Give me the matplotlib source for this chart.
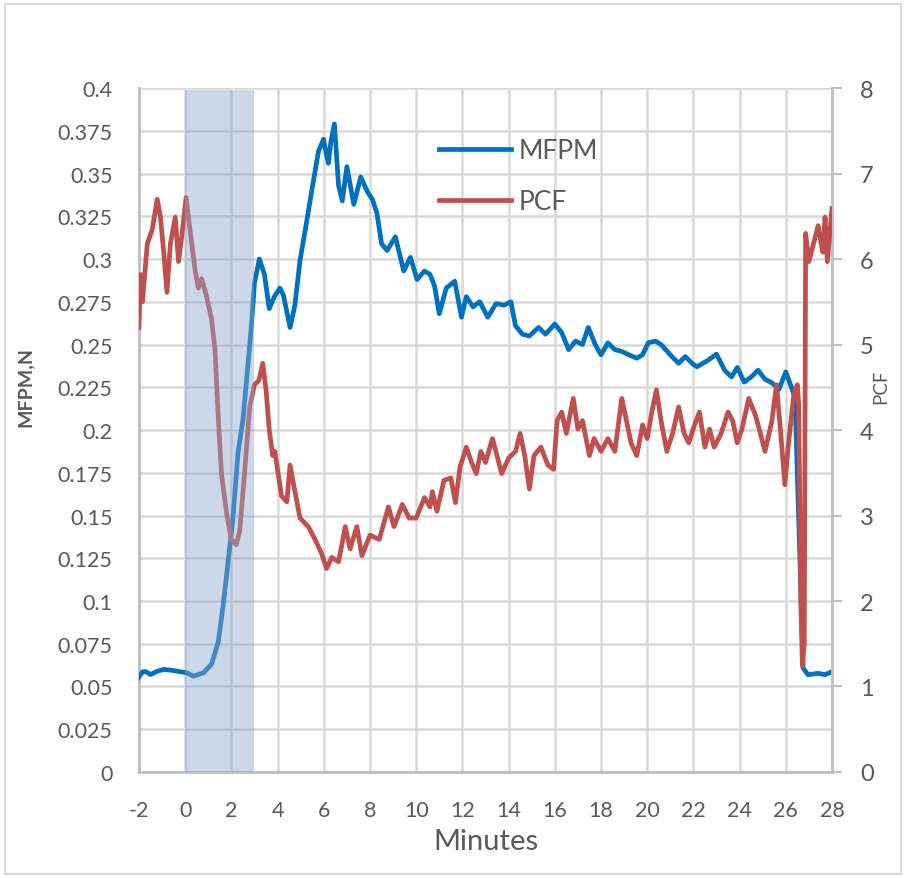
import matplotlib
matplotlib.use("Agg")
import matplotlib.pyplot as plt
from matplotlib.patches import Rectangle

plt.rcParams['font.family'] = ['Lato', 'DejaVu Sans']

# ---------------- data ----------------
mfpm_t = [-2.0, -1.85, -1.71, -1.5, -1.2, -0.93, -0.6, -0.36, 0.07, 0.36, 0.79, 1.14,
          1.43, 1.64, 1.86, 2.07, 2.29, 2.5, 2.71, 2.86, 3.0, 3.21, 3.43, 3.64, 3.86,
          4.1, 4.25, 4.54, 4.75, 4.97, 5.26, 5.48, 5.77, 5.99, 6.1, 6.2, 6.3, 6.46,
          6.64, 6.8, 7.0, 7.3, 7.6, 7.9, 8.1, 8.3, 8.5, 8.74, 9.1, 9.46, 9.75, 10.04,
          10.36, 10.6, 10.8, 11.0, 11.3, 11.67, 11.96, 12.17, 12.46, 12.75, 13.1,
          13.46, 13.8, 14.1, 14.3, 14.6, 14.9, 15.3, 15.6, 16.0, 16.3, 16.6, 16.9,
          17.2, 17.45, 17.75, 18.0, 18.3, 18.6, 18.9, 19.2, 19.55, 19.8, 20.05, 20.35,
          20.6, 21.0, 21.36, 21.65, 21.94, 22.15, 22.6, 23.0, 23.35, 23.65, 23.9,
          24.2, 24.5, 24.8, 25.1, 25.4, 25.7, 26.0, 26.2, 26.4, 26.6, 26.75, 26.96,
          27.4, 27.7, 28.0]
mfpm_v = [0.0556, 0.0585, 0.0587, 0.057, 0.059, 0.060, 0.0595, 0.059, 0.058, 0.056,
          0.058, 0.063, 0.076, 0.097, 0.123, 0.149, 0.187, 0.206, 0.237, 0.26, 0.286,
          0.30, 0.291, 0.271, 0.278, 0.283, 0.279, 0.26, 0.273, 0.299, 0.322, 0.34,
          0.363, 0.37, 0.362, 0.356, 0.368, 0.379, 0.343, 0.334, 0.354, 0.332, 0.348,
          0.339, 0.335, 0.327, 0.309, 0.305, 0.313, 0.293, 0.301, 0.288, 0.293, 0.291,
          0.284, 0.268, 0.283, 0.287, 0.266, 0.278, 0.272, 0.275, 0.266, 0.274, 0.273,
          0.275, 0.261, 0.256, 0.255, 0.26, 0.256, 0.262, 0.257, 0.247, 0.252, 0.25,
          0.26, 0.25, 0.244, 0.251, 0.247, 0.246, 0.244, 0.242, 0.244, 0.251, 0.252,
          0.25, 0.244, 0.239, 0.243, 0.239, 0.237, 0.2405, 0.2444, 0.235, 0.231,
          0.2366, 0.228, 0.231, 0.235, 0.2297, 0.2276, 0.2237, 0.234, 0.2266, 0.219,
          0.13, 0.0608, 0.0569, 0.0577, 0.0569, 0.0587]

pcf_t = [-2.0, -1.93, -1.85, -1.64, -1.43, -1.21, -1.07, -0.93, -0.79, -0.64, -0.43,
         -0.29, -0.14, 0.04, 0.21, 0.43, 0.57, 0.71, 0.93, 1.14, 1.29, 1.43, 1.57,
         1.79, 2.0, 2.21, 2.36, 2.57, 2.79, 3.0, 3.19, 3.36, 3.5, 3.64, 3.79, 3.88,
         4.17, 4.4, 4.54, 4.75, 4.97, 5.33, 5.62, 5.9, 6.12, 6.35, 6.64, 6.93, 7.14,
         7.43, 7.65, 8.0, 8.4, 8.8, 9.04, 9.4, 9.7, 10.0, 10.36, 10.6, 10.7, 10.9,
         11.2, 11.5, 11.7, 11.9, 12.17, 12.4, 12.6, 12.8, 13.0, 13.3, 13.5, 13.7,
         14.0, 14.3, 14.5, 14.7, 14.9, 15.1, 15.4, 15.7, 15.95, 16.1, 16.3, 16.5,
         16.8, 17.0, 17.2, 17.5, 17.7, 18.0, 18.3, 18.6, 18.9, 19.1, 19.3, 19.55,
         19.8, 20.0, 20.2, 20.4, 20.6, 20.85, 21.1, 21.36, 21.6, 21.8, 22.05, 22.26,
         22.5, 22.7, 22.9, 23.2, 23.5, 23.7, 23.9, 24.1, 24.4, 24.7, 24.9, 25.1,
         25.4, 25.6, 25.8, 25.96, 26.1, 26.35, 26.5, 26.56, 26.65, 26.72, 26.8,
         26.86, 27.0, 27.2, 27.4, 27.6, 27.7, 27.8, 28.0]
pcf_v = [5.2, 5.82, 5.5, 6.18, 6.34, 6.7, 6.49, 6.08, 5.61, 6.18, 6.49, 5.97, 6.28,
         6.72, 6.34, 5.87, 5.66, 5.77, 5.56, 5.3, 4.94, 4.16, 3.49, 3.03, 2.72, 2.66,
         2.82, 3.49, 4.27, 4.53, 4.58, 4.78, 4.47, 4.0, 3.7, 3.75, 3.23, 3.16, 3.59,
         3.28, 2.97, 2.87, 2.72, 2.56, 2.38, 2.51, 2.46, 2.87, 2.61, 2.87, 2.53, 2.77,
         2.72, 3.10, 2.87, 3.13, 2.97, 2.97, 3.21, 3.10, 3.28, 3.05, 3.41, 3.44, 3.15,
         3.57, 3.80, 3.62, 3.49, 3.75, 3.62, 3.90, 3.70, 3.49, 3.67, 3.75, 3.96, 3.70,
         3.31, 3.70, 3.80, 3.59, 3.54, 4.11, 4.21, 3.96, 4.37, 4.01, 4.11, 3.70, 3.90,
         3.75, 3.90, 3.75, 4.37, 4.11, 3.85, 3.70, 4.06, 3.90, 4.21, 4.47, 4.11, 3.75,
         3.96, 4.27, 3.96, 3.85, 4.06, 4.21, 3.80, 4.01, 3.80, 3.96, 4.21, 4.11, 3.85,
         4.01, 4.37, 4.16, 3.96, 3.75, 4.11, 4.53, 3.90, 3.36, 3.80, 4.42, 4.53, 4.3,
         2.0, 1.24, 1.5, 6.3, 5.97, 6.18, 6.39, 6.08, 6.49, 5.97, 6.59]

shade_start, shade_end = 0, 3
x_ticks = list(range(-2, 29, 2))
left_ticks = [i * 0.025 for i in range(17)]
left_labels = ['0', '0.025', '0.05', '0.075', '0.1', '0.125', '0.15', '0.175', '0.2',
               '0.225', '0.25', '0.275', '0.3', '0.325', '0.35', '0.375', '0.4']
right_ticks = list(range(0, 9))

# ---------------- styling ----------------
BLUE = '#0070c0'
RED = '#c0504d'
GRID = '#d9d9d9'
AXIS = '#bfbfbf'
TXT = '#595959'

fig = plt.figure(figsize=(9.06, 8.79), dpi=100)
fig.patches.append(Rectangle((0.006, 0.004), 0.988, 0.99, transform=fig.transFigure,
                             fill=False, edgecolor='#d9d9d9', linewidth=1.5))

ax = fig.add_axes([0.1534, 0.1206, 0.9183 - 0.1534, 0.8987 - 0.1206])
ax2 = ax.twinx()

ax.set_xlim(-2, 28)
ax.set_ylim(0, 0.4)
ax2.set_ylim(0, 8)

ax.set_xticks(x_ticks)
ax.set_xticklabels([str(v) for v in x_ticks])
ax.set_yticks(left_ticks)
ax.set_yticklabels(left_labels)
ax2.set_yticks(right_ticks)
ax2.set_yticklabels([str(v) for v in right_ticks])

ax.grid(True, color=GRID, linewidth=1.8)
ax.set_axisbelow(True)

for s in ['top', 'right']:
    ax.spines[s].set_visible(False)
for s in ['left', 'bottom']:
    ax.spines[s].set_color(AXIS)
    ax.spines[s].set_linewidth(2.0)
for s in ['top', 'left', 'bottom']:
    ax2.spines[s].set_visible(False)
ax2.spines['right'].set_color(AXIS)
ax2.spines['right'].set_linewidth(2.0)

ax.tick_params(axis='both', length=0, labelsize=15.5, labelcolor=TXT)
ax.tick_params(axis='y', pad=19)
ax.tick_params(axis='x', pad=20)
ax2.tick_params(axis='y', direction='out', length=7, width=1.5, color=AXIS,
                labelsize=17, labelcolor=TXT, pad=13)

l1, = ax.plot(mfpm_t, mfpm_v, color=BLUE, linewidth=3.4, label='MFPM',
              solid_joinstyle='round', zorder=3)
l2, = ax2.plot(pcf_t, pcf_v, color=RED, linewidth=3.4, label='PCF',
               solid_joinstyle='round', zorder=3)
ax2.axvspan(shade_start, shade_end, ymin=0, ymax=0.997, color='#8fa9cf',
            alpha=0.45, linewidth=0, zorder=5)

ax.set_xlabel('Minutes', fontsize=21, color=TXT, labelpad=6)
ax.set_ylabel('MFPM,N', fontsize=14, color=TXT, fontweight='bold')
ax.yaxis.set_label_coords(-0.152, 0.565)
ax2.set_ylabel('PCF', fontsize=13.5, color=TXT)
ax2.yaxis.set_label_coords(1.058, 0.565)

leg = fig.legend(handles=[l1, l2], loc='upper left', bbox_to_anchor=(0.484, 0.842),
                 frameon=False, fontsize=19, handlelength=2.75, handletextpad=0.3,
                 labelspacing=1.0, borderpad=0, borderaxespad=0)
for t in leg.get_texts():
    t.set_color(TXT)

fig.savefig('out.png', dpi=100)
